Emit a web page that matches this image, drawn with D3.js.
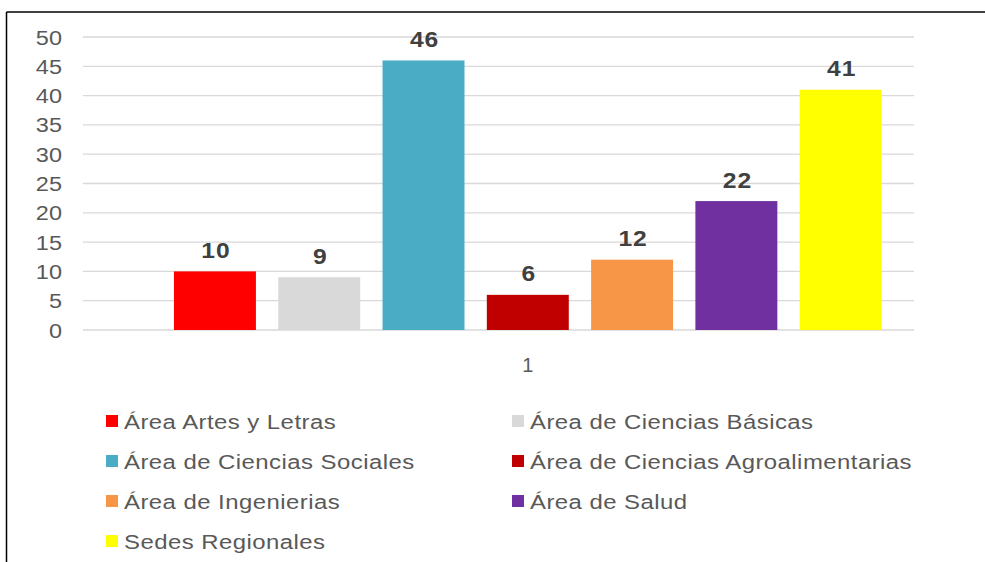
<!DOCTYPE html>
<html>
<head>
<meta charset="utf-8">
<script src="https://cdn.jsdelivr.net/npm/d3@7"></script>
<style>
  body { margin: 0; background: #fff; }
  text { font-family: "Liberation Sans", Arial, sans-serif; }
</style>
</head>
<body>
<div id="chart"></div>
<script>
var width = 985;
var height = 562;

var series = ['Área Artes y Letras', 'Área de Ciencias Básicas', 'Área de Ciencias Sociales',
              'Área de Ciencias Agroalimentarias', 'Área de Ingenierias', 'Área de Salud', 'Sedes Regionales'];
var values = [10, 9, 46, 6, 12, 22, 41];
var colors = ['#ff0000', '#d9d9d9', '#4bacc6', '#c00000', '#f79646', '#7030a0', '#ffff00'];
var yTicks = [0, 5, 10, 15, 20, 25, 30, 35, 40, 45, 50];
var category = '1';

var svg = d3.select('#chart')
  .append('svg')
  .attr('width', width)
  .attr('height', height);

// frame
svg.append('line').attr('x1', 6.5).attr('x2', width).attr('y1', 12).attr('y2', 12)
  .attr('stroke', '#000').attr('stroke-width', 1.5);
svg.append('line').attr('x1', 6.5).attr('x2', 6.5).attr('y1', 12).attr('y2', height)
  .attr('stroke', '#000').attr('stroke-width', 1.5);

var y = d3.scaleLinear().domain([0, 50]).range([330, 37]);

var x = d3.scaleBand()
  .domain(series)
  .range([162.8, 892.8])
  .paddingInner(0.214)
  .paddingOuter(0.107);

// gridlines
svg.selectAll('.grid')
  .data(yTicks)
  .enter().append('line')
  .attr('class', 'grid')
  .attr('x1', 83).attr('x2', 914)
  .attr('y1', function(d) { return y(d); })
  .attr('y2', function(d) { return y(d); })
  .attr('stroke', '#d9d9d9')
  .attr('stroke-width', 1.3);

// y labels (glyphs a bit wide, like the original)
svg.selectAll('.ylab')
  .data(yTicks)
  .enter().append('text')
  .attr('class', 'ylab')
  .attr('transform', function(d) { return 'translate(62,' + y(d) + ') scale(1.12,1)'; })
  .attr('dy', '0.36em')
  .attr('text-anchor', 'end')
  .attr('font-size', 21)
  .attr('fill', '#595959')
  .text(function(d) { return d; });

// bars
svg.selectAll('.bar')
  .data(values)
  .enter().append('rect')
  .attr('class', 'bar')
  .attr('x', function(d, i) { return x(series[i]); })
  .attr('width', x.bandwidth())
  .attr('y', function(d) { return y(d); })
  .attr('height', function(d) { return y(0) - y(d); })
  .attr('fill', function(d, i) { return colors[i]; });

// value labels
svg.selectAll('.val')
  .data(values)
  .enter().append('text')
  .attr('class', 'val')
  .attr('transform', function(d, i) {
    return 'translate(' + (x(series[i]) + x.bandwidth() / 2 + 1) + ',' + (y(d) - 13.5) + ') scale(1.12,1)';
  })
  .attr('text-anchor', 'middle')
  .attr('font-size', 22)
  .attr('font-weight', 'bold')
  .attr('letter-spacing', 0.8)
  .attr('fill', '#404040')
  .text(function(d) { return d; });

// category label
svg.append('text')
  .attr('x', (x.range()[0] + x.range()[1]) / 2)
  .attr('y', 372)
  .attr('text-anchor', 'middle')
  .attr('font-family', '"Liberation Serif", serif')
  .attr('font-size', 20)
  .attr('fill', '#595959')
  .text(category);

// legend
var legend = svg.selectAll('.legend')
  .data(series)
  .enter().append('g')
  .attr('class', 'legend')
  .attr('transform', function(d, i) {
    var col = i % 2, row = Math.floor(i / 2);
    return 'translate(' + (col === 0 ? 106 : 512) + ',' + (421 + row * 40) + ')';
  });

legend.append('rect')
  .attr('x', 0).attr('y', -6)
  .attr('width', 12).attr('height', 12)
  .attr('fill', function(d, i) { return colors[i]; });

legend.append('text')
  .attr('transform', 'translate(18,0) scale(1.14,1)')
  .attr('dy', '0.36em')
  .attr('font-size', 21)
  .attr('letter-spacing', 0.4)
  .attr('fill', '#595959')
  .text(function(d) { return d; });
</script>
</body>
</html>
